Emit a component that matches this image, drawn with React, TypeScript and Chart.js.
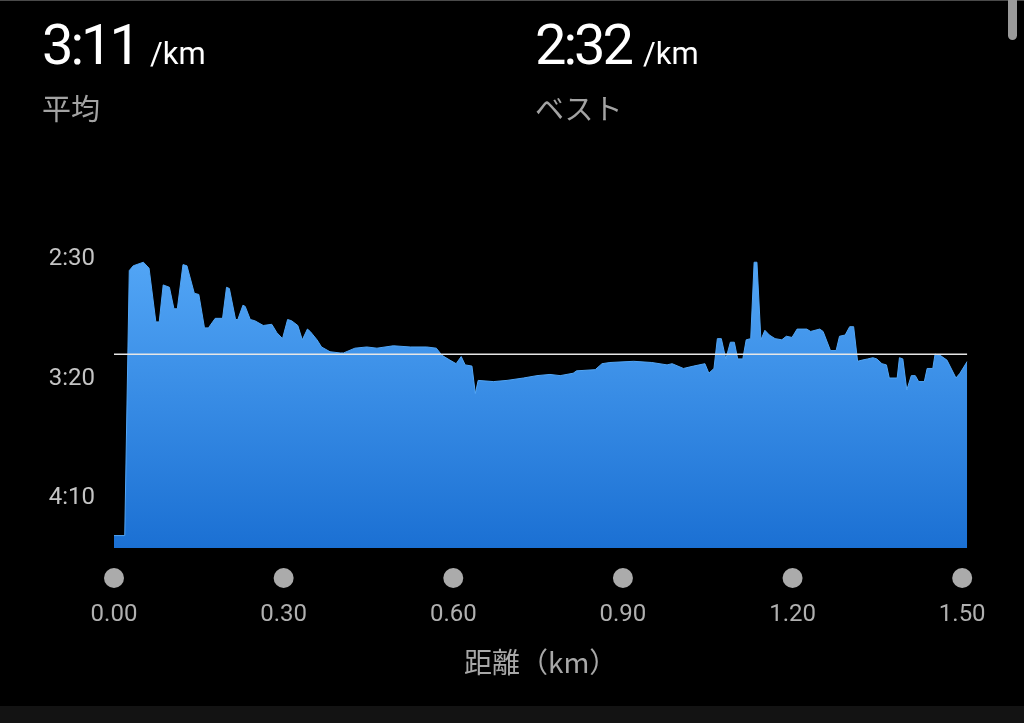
import React, { useEffect, useRef } from "react";
import { Chart, registerables } from "chart.js";

Chart.register(...registerables);

// distance along the run (km)
const distKm = [
  0.000, 0.019, 0.027, 0.034, 0.052, 0.062, 0.074, 0.080, 0.087, 0.098,
  0.106, 0.112, 0.122, 0.129, 0.142, 0.150, 0.160, 0.167, 0.179, 0.192,
  0.199, 0.204, 0.215, 0.219, 0.228, 0.232, 0.241, 0.249, 0.264, 0.279,
  0.288, 0.298, 0.307, 0.314, 0.325, 0.333, 0.342, 0.347, 0.359, 0.367,
  0.382, 0.400, 0.406, 0.426, 0.447, 0.465, 0.494, 0.524, 0.553, 0.570,
  0.580, 0.594, 0.605, 0.614, 0.621, 0.633, 0.639, 0.644, 0.671, 0.695,
  0.724, 0.748, 0.771, 0.789, 0.812, 0.818, 0.851, 0.863, 0.877, 0.919,
  0.951, 0.978, 0.987, 1.007, 1.025, 1.045, 1.052, 1.061, 1.067, 1.074,
  1.082, 1.090, 1.097, 1.103, 1.112, 1.118, 1.126, 1.132, 1.137, 1.144,
  1.151, 1.159, 1.169, 1.181, 1.189, 1.199, 1.208, 1.225, 1.232, 1.248,
  1.254, 1.267, 1.277, 1.283, 1.293, 1.301, 1.308, 1.315, 1.323, 1.333,
  1.342, 1.349, 1.358, 1.366, 1.371, 1.385, 1.389, 1.395, 1.402, 1.410,
  1.417, 1.423, 1.433, 1.438, 1.448, 1.452, 1.461, 1.473, 1.489, 1.496,
  1.509,
];

// pace in seconds per km
const paceSec = [
  267, 267, 156, 154, 152.5, 155, 177.5, 177.5, 162, 163,
  172, 172, 153.5, 154, 165.5, 166, 180, 180, 176, 176,
  163, 163.5, 176.5, 176.5, 170.5, 171, 176.5, 177, 179, 178.5,
  182, 184.5, 176.5, 177, 179, 185, 180.5, 181.5, 185, 188,
  190, 190.5, 190.5, 188.5, 188, 188.5, 187.5, 188, 188, 188.5,
  191.5, 193.5, 195, 192, 195.5, 196, 207.5, 202, 202.5, 202,
  201, 200, 199.5, 200, 199, 198, 197.5, 195, 194.5, 194,
  194.5, 195.5, 195, 197, 196, 195, 199, 197, 184.5, 184.5,
  193, 186, 186, 193, 193, 185, 184.5, 152.5, 152.5, 185,
  181, 183, 184.5, 185, 183.5, 184, 180.5, 180.5, 181.5, 180.5,
  181.5, 189.5, 189.5, 183.5, 183, 179.5, 179.5, 194, 193.5, 193,
  192.5, 193, 195, 195.5, 201, 201, 192.5, 193, 206, 200,
  200, 202.5, 202.5, 197, 197, 191, 191.5, 193.5, 201, 199,
  194,
];

const avgPaceSec = 191; // 3:11
const xTickValues = [0, 0.3, 0.6, 0.9, 1.2, 1.5];
const yTickValues = [150, 200, 250];

const fmtPace = (s: number) => {
  const m = Math.floor(s / 60);
  const r = Math.round(s - m * 60);
  return `${m}:${r.toString().padStart(2, "0")}`;
};

const dotPlugin = {
  id: "tickDots",
  afterDraw(chart: any) {
    const xs = chart.scales.x;
    const c = chart.ctx;
    c.save();
    c.fillStyle = "#ababab";
    xs.ticks.forEach((t: any) => {
      const px = xs.getPixelForValue(t.value);
      c.beginPath();
      c.arc(px, chart.chartArea.bottom + 30, 10, 0, Math.PI * 2);
      c.fill();
    });
    c.restore();
  },
};

export default function App() {
  const ref = useRef<HTMLCanvasElement | null>(null);

  useEffect(() => {
    document.body.style.margin = "0";
    document.body.style.background = "#000";
    const canvas = ref.current;
    if (!canvas) return;
    const areaData = distKm.map((d, i) => ({ x: d, y: paceSec[i] }));
    const avgData = [
      { x: distKm[0], y: avgPaceSec },
      { x: distKm[distKm.length - 1], y: avgPaceSec },
    ];
    const chart = new Chart(canvas, {
      type: "line",
      data: {
        datasets: [
          {
            data: avgData,
            borderColor: "#e6e6e6",
            borderWidth: 1.5,
            pointRadius: 0,
            fill: false,
            order: 0,
          },
          {
            data: areaData,
            borderColor: "#52a6f6",
            borderWidth: 1,
            pointRadius: 0,
            tension: 0,
            fill: "start",
            order: 1,
            backgroundColor: (ctx: any) => {
              const { chart } = ctx;
              const area = chart.chartArea;
              if (!area) return "#3a8ee8";
              const g = chart.ctx.createLinearGradient(0, area.top, 0, area.bottom);
              g.addColorStop(0, "#58abf9");
              g.addColorStop(1, "#1b70d3");
              return g;
            },
          },
        ],
      },
      options: {
        animation: false,
        responsive: true,
        maintainAspectRatio: false,
        layout: { padding: { top: 230, right: 56.7, left: 0, bottom: 0 } },
        plugins: { legend: { display: false }, tooltip: { enabled: false } },
        scales: {
          x: {
            type: "linear",
            min: 0,
            max: distKm[distKm.length - 1],
            grid: {
              display: true,
              drawOnChartArea: false,
              drawTicks: true,
              tickLength: 50,
              tickColor: "rgba(0,0,0,0)",
              color: "rgba(0,0,0,0)",
            },
            border: { display: false },
            afterBuildTicks: (s: any) => {
              s.ticks = xTickValues.map((v) => ({ value: v }));
            },
            afterFit: (s: any) => {
              s.height = 175;
            },
            ticks: {
              padding: 3,
              maxRotation: 0,
              autoSkip: false,
              color: "#b0b0b0",
              font: { family: "Roboto", size: 24 },
              callback: (v: any) => Number(v).toFixed(2),
            },
            title: {
              display: true,
              text: "距離（km）",
              color: "#a8a8a8",
              font: { family: "'Noto Sans CJK JP'", size: 28 },
              padding: { top: 0, bottom: 44 },
            },
          },
          y: {
            type: "linear",
            reverse: true,
            min: 139,
            max: 272.2,
            grid: { display: false, drawTicks: false, tickLength: 0 },
            border: { display: false },
            afterBuildTicks: (s: any) => {
              s.ticks = yTickValues.map((v) => ({ value: v }));
            },
            afterFit: (s: any) => {
              s.width = 114;
            },
            ticks: {
              padding: 19,
              labelOffset: 3,
              color: "#c4c4c4",
              font: { family: "Roboto", size: 24 },
              callback: (v: any) => fmtPace(Number(v)),
            },
          },
        },
      },
      plugins: [dotPlugin],
    });
    return () => chart.destroy();
  }, []);

  const big: React.CSSProperties = {
    position: "absolute",
    top: 17,
    fontFamily: "Roboto, sans-serif",
    color: "#ffffff",
    whiteSpace: "nowrap",
    lineHeight: 1,
  };
  const sub: React.CSSProperties = {
    position: "absolute",
    top: 93,
    fontFamily: "'Noto Sans CJK JP', sans-serif",
    fontSize: 29,
    color: "#a3a3a3",
    lineHeight: 1,
    whiteSpace: "nowrap",
  };

  return (
    <div
      style={{
        position: "fixed",
        left: 0,
        top: 0,
        width: 1024,
        height: 723,
        background: "#000",
        overflow: "hidden",
      }}
    >
      <div style={{ position: "absolute", left: 0, top: 0, width: 1024, height: 723 }}>
        <canvas ref={ref} />
      </div>
      <div style={{ position: "absolute", left: 0, top: 0, width: 1024, height: 1, background: "#4a4a4a" }} />
      <div
        style={{
          position: "absolute",
          left: 1008,
          top: 0,
          width: 9,
          height: 40,
          background: "#9a9a9a",
          borderRadius: "0 0 5px 5px",
        }}
      />
      <div style={{ ...big, left: 42 }}>
        <span style={{ fontSize: 56, letterSpacing: -3 }}>3:11</span>
        <span style={{ fontSize: 31, marginLeft: 12 }}>/km</span>
      </div>
      <div style={{ ...sub, left: 42 }}>平均</div>
      <div style={{ ...big, left: 535 }}>
        <span style={{ fontSize: 56, letterSpacing: -3 }}>2:32</span>
        <span style={{ fontSize: 31, marginLeft: 12 }}>/km</span>
      </div>
      <div style={{ ...sub, left: 535 }}>ベスト</div>
      <div
        style={{
          position: "absolute",
          left: 0,
          top: 706,
          width: 1024,
          height: 17,
          background: "#131313",
        }}
      />
    </div>
  );
}
